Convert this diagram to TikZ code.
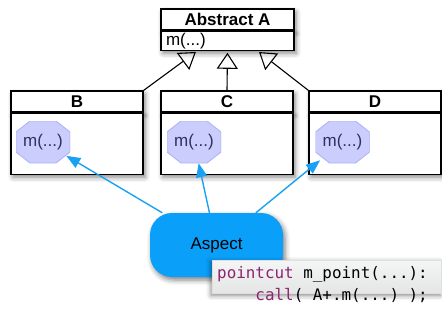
\documentclass[tikz,border=0pt]{standalone}
\usepackage{fontspec}
\setmainfont{Liberation Sans}
\setmonofont{DejaVu Sans Mono}
\usetikzlibrary{arrows.meta,shadows.blur,calc}
\definecolor{octfill}{HTML}{CBCEFD}
\definecolor{octdraw}{HTML}{AEB3FA}
\definecolor{octtext}{HTML}{2E3160}
\definecolor{advblue}{HTML}{1BA1F2}
\definecolor{aspblue}{HTML}{0AA0FA}
\definecolor{kw}{HTML}{8E2370}
\definecolor{codetop}{HTML}{F4F5F5}
\definecolor{codebot}{HTML}{E4E6E6}
\newcommand{\csp}{\hspace*{\fontcharwd\font`x}}
\begin{document}
\begin{tikzpicture}[x=1pt,y=1pt,
  sh/.style={blur shadow={shadow xshift=2pt, shadow yshift=-3pt, shadow blur radius=5pt, shadow opacity=50}},
  hdr/.style={draw, line width=1.2pt, fill=white, minimum width=132pt, minimum height=21pt, inner sep=0pt,
    font=\fontsize{17}{20}\selectfont\bfseries, sh},
  bdy/.style={draw, line width=1.2pt, fill=white, inner xsep=5pt, inner ysep=0pt, anchor=north,
    font=\fontsize{17}{20}\selectfont, align=left, sh},
  oct/.style={rectangle, minimum width=54pt, minimum height=42pt, inner sep=0pt,
    text=octtext, font=\fontsize{17}{20}\selectfont,
    path picture={\filldraw[fill=octfill, draw=octdraw, line width=0.9pt]
      ([xshift=14pt]path picture bounding box.north west) --
      ([xshift=-14pt]path picture bounding box.north east) --
      ([yshift=-11pt]path picture bounding box.north east) --
      ([yshift=11pt]path picture bounding box.south east) --
      ([xshift=-14pt]path picture bounding box.south east) --
      ([xshift=14pt]path picture bounding box.south west) --
      ([yshift=11pt]path picture bounding box.south west) --
      ([yshift=-11pt]path picture bounding box.north west) -- cycle;}},
  inh/.style={line width=1.1pt, shorten >=2pt, -{Triangle[open, length=16pt, width=21pt, line width=1.1pt]}},
  adv/.style={line width=1.4pt, draw=advblue, -{Triangle[length=14pt, width=11pt]}},
  asp/.style={rounded corners=22pt, fill=aspblue, minimum width=133pt, minimum height=64pt,
    font=\fontsize{17}{20}\selectfont, sh},
  code/.style={draw=gray!25, line width=0.4pt, top color=codetop, bottom color=codebot, anchor=north west,
    text width=219pt, inner xsep=5pt, inner ysep=6pt, text depth=9pt, align=left,
    font=\fontsize{15.9}{22}\selectfont\ttfamily,
    blur shadow={shadow xshift=-1pt, shadow yshift=-2pt, shadow blur radius=5pt, shadow opacity=50}}]
\useasboundingbox (0,0) rectangle (442,-322);
% Abstract A
\node[hdr, minimum width=133pt] (ah) at (227.5,-19.5) {Abstract A};
\node[bdy, text width=123pt, minimum height=19pt] (a) at (ah.south) {m(...)};
% B, C, D
\node[hdr] (hb) at (77,-101.5) {B};
\node[bdy, text width=122pt, minimum height=61pt] (b) at (hb.south) {};
\node[hdr] (hc) at (227,-101.5) {C};
\node[bdy, text width=122pt, minimum height=61pt] (c) at (hc.south) {};
\node[hdr] (hd) at (375,-101.5) {D};
\node[bdy, text width=122pt, minimum height=61pt] (d) at (hd.south) {};
% inheritance
\draw[inh] (hb.north east) -- ([xshift=-30pt]a.south);
\draw[inh] (hc.north) -- (a.south);
\draw[inh] (hd.north west) -- ([xshift=30pt]a.south);
% methods
\node[oct] (ob) at (43,-142) {m(...)};
\node[oct] (oc) at (194,-142) {m(...)};
\node[oct] (od) at (342.5,-142) {m(...)};
% aspect
\node[asp] (asp) at (216.5,-245) {Aspect};
\draw[adv, shorten >=-4.5pt] (asp) -- (ob);
\draw[adv] (asp) -- (oc);
\draw[adv, shorten >=-4.5pt] (asp) -- (od);
% code
\node[code] (cd) at (212,-260) {\textcolor{kw}{pointcut}\csp m\_point(...):\\
\csp\csp\csp\csp\textcolor{kw}{call}(\csp A+.m(...)\csp);};
\end{tikzpicture}
\end{document}
